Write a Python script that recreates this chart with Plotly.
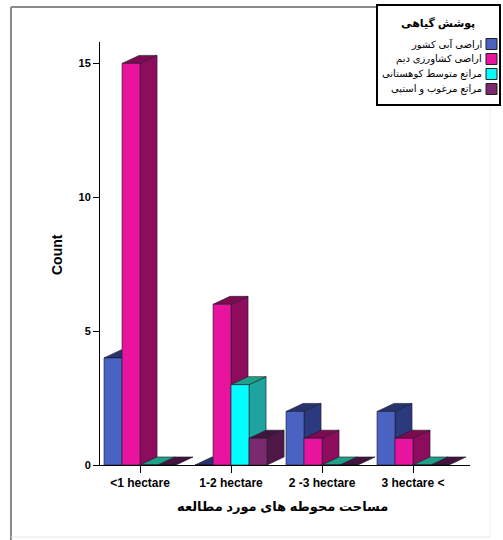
import plotly.graph_objects as go

# Study-area size classes and counts per vegetation-cover type
categories = ["<1 hectare", "1-2 hectare", "2 -3 hectare", "3 hectare <"]
series_names = [
    "اراضی آبی کشور",
    "اراضی کشاورزی دیم",
    "مراتع متوسط کوهستانی",
    "مراتع مرغوب و استپی",
]
irrigated = [4, 0, 2, 2]
dryland = [15, 6, 1, 1]
mountain_range = [0, 3, 0, 0]
steppe_range = [0, 1, 0, 0]
series_values = [irrigated, dryland, mountain_range, steppe_range]

legend_title = "پوشش گیاهی"
x_title = "مساحت محوطه های مورد مطالعه"
y_title = "Count"
y_ticks = [0, 5, 10, 15]

# face colours: front, side/top
front_colors = ["#4a62c2", "#e8149e", "#00ffff", "#7c2a70"]
side_colors = ["#2b3a7e", "#8e0c5e", "#1ea3a0", "#4f1848"]
top_colors = ["#26346e", "#7e0a52", "#20a088", "#43143e"]

FONT = "Liberation Sans, Arial, DejaVu Sans, sans-serif"

# geometry of the oblique 3D effect (axis units)
bar_w = 0.198
depth_x = 0.187
depth_y = 0.30

# plot-area pixel frame, used for placing the legend / frame
W, H = 503, 540
L, R, T, B = 100, 33, 42, 75
x_range = [-0.44, 3.626]
y_range = [0, 15.8]


def px_x(p):
    return (p - L) / (W - L - R)


def px_y(p):
    return (H - B - p) / (H - T - B)


fig = go.Figure()
shapes = []

n = len(series_values)
for i, (vals, name) in enumerate(zip(series_values, series_names)):
    xs = [c + (i - (n - 1) / 2) * bar_w for c in range(len(categories))]
    fig.add_trace(go.Bar(
        x=xs, y=vals, width=bar_w, name=name,
        marker=dict(color=front_colors[i], line=dict(color="#1a1a2a", width=0.6)),
        showlegend=False, hoverinfo="y",
    ))

# side and top faces, drawn beneath the front faces in series order
for c in range(len(categories)):
    for i, vals in enumerate(series_values):
        h = vals[c]
        x0 = c + (i - (n - 1) / 2) * bar_w - bar_w / 2
        x1 = x0 + bar_w
        if h > 0:
            side = (f"M {x1},0 L {x1 + depth_x},{depth_y} "
                    f"L {x1 + depth_x},{h + depth_y} L {x1},{h} Z")
            shapes.append(dict(type="path", path=side, xref="x", yref="y",
                               fillcolor=side_colors[i], layer="below",
                               line=dict(color="#1a1a2a", width=0.6)))
        top = (f"M {x0},{h} L {x1},{h} L {x1 + depth_x},{h + depth_y} "
               f"L {x0 + depth_x},{h + depth_y} Z")
        shapes.append(dict(type="path", path=top, xref="x", yref="y",
                           fillcolor=top_colors[i], layer="below",
                           line=dict(color="#1a1a2a", width=0.6)))

# outer frame of the chart: darker left/top edges, faint right/bottom edges
frame_edges = [
    (11, 7, 11, 540, "#8a8a8a", 2),
    (11, 7, 380, 7, "#8a8a8a", 2),
    (490, 105, 490, 537, "#ececec", 1),
    (11, 537, 490, 537, "#e4e4e4", 1),
]
for xa, ya, xb, yb, col, wd in frame_edges:
    shapes.append(dict(type="line", xref="paper", yref="paper",
                       x0=px_x(xa), y0=px_y(ya), x1=px_x(xb), y1=px_y(yb),
                       line=dict(color=col, width=wd), layer="below"))

# legend box
shapes.append(dict(type="rect", xref="paper", yref="paper",
                   x0=px_x(377), x1=px_x(500), y0=px_y(105), y1=px_y(5),
                   line=dict(color="black", width=2), fillcolor="white",
                   layer="above"))

annotations = [
    dict(text=legend_title, xref="paper", yref="paper", x=px_x(438), y=px_y(24),
         showarrow=False, xanchor="center", yanchor="middle",
         font=dict(family=FONT, size=11, color="black", weight="bold")),
]
item_y = [44, 59, 74, 89]
for i, name in enumerate(series_names):
    shapes.append(dict(type="rect", xref="paper", yref="paper",
                       x0=px_x(486), x1=px_x(497),
                       y0=px_y(item_y[i] + 5.5), y1=px_y(item_y[i] - 5.5),
                       fillcolor=front_colors[i], layer="above",
                       line=dict(color="#202020", width=1)))
    annotations.append(dict(text=name, xref="paper", yref="paper",
                            x=px_x(484), y=px_y(item_y[i]), showarrow=False,
                            xanchor="right", yanchor="middle",
                            font=dict(family=FONT, size=10, color="black")))

annotations.append(dict(text=y_title, xref="paper", yref="paper",
                        x=px_x(57), y=px_y(255), textangle=-90,
                        showarrow=False, xanchor="center", yanchor="middle",
                        font=dict(family=FONT, size=14, color="black",
                                  weight="bold")))
annotations.append(dict(text=x_title, xref="paper", yref="paper",
                        x=px_x(282), y=px_y(507), showarrow=False,
                        xanchor="center", yanchor="middle",
                        font=dict(family=FONT, size=13, color="black",
                                  weight="bold")))

fig.update_layout(
    width=W, height=H,
    margin=dict(l=L, r=R, t=T, b=B),
    paper_bgcolor="white", plot_bgcolor="white",
    barmode="overlay",
    shapes=shapes, annotations=annotations,
    xaxis=dict(range=x_range, tickvals=list(range(len(categories))),
               ticktext=categories, showgrid=False, zeroline=False,
               showline=True, linecolor="black", linewidth=1,
               ticks="outside", ticklen=7, tickcolor="black",
               tickfont=dict(family=FONT, size=12, color="black",
                             weight="bold")),
    yaxis=dict(range=y_range, tickvals=y_ticks, showgrid=False,
               zeroline=False, showline=True, linecolor="black",
               linewidth=1, ticks="outside", ticklen=6, tickcolor="black",
               tickfont=dict(family=FONT, size=11, color="black",
                             weight="bold")),
)

fig.write_html("out.html")
